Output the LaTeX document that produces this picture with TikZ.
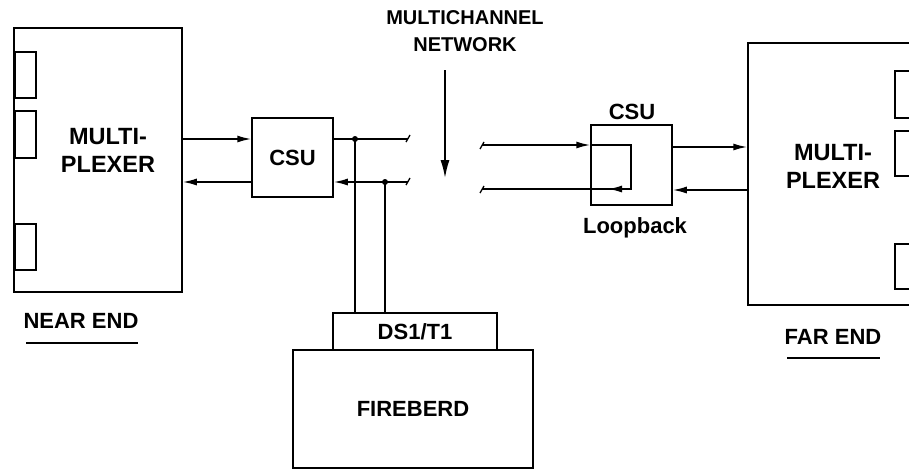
\documentclass[tikz,border=0pt]{standalone}
\usepackage{fontspec}
\setmainfont{Liberation Sans}
\usetikzlibrary{arrows.meta,calc}
\begin{document}
\begin{tikzpicture}[x=1pt,y=-1pt,
  box/.style={draw,line width=1.5pt,inner sep=0pt},
  lbl/.style={font=\fontsize{22}{27}\selectfont\bfseries,align=center,inner sep=0pt},
  muxlbl/.style={lbl,font=\fontsize{23.5}{28}\selectfont\bfseries},
  wire/.style={line width=1.6pt},
  arr/.style={wire,-{Latex[length=14pt,width=7pt]}},
  bigarr/.style={wire,-{Latex[length=18pt,width=9pt]}},
  dot/.style={circle,fill,inner sep=0pt,minimum size=6pt}]
\clip (0,0) rectangle (909,471);
% near-end multiplexer
\node[box,minimum width=168pt,minimum height=264pt] (nmux) at (98,160) {};
\node[box,minimum width=21pt,minimum height=46pt,anchor=north west] (np1) at (14,51) {};
\node[box,minimum width=21pt,minimum height=47pt,anchor=north west] (np2) at (14,110) {};
\node[box,minimum width=21pt,minimum height=46pt,anchor=north west] (np3) at (14,223) {};
\node[muxlbl] (nmuxt) at (108,150) {MULTI-\\PLEXER};
\node[lbl] (nearlbl) at (81,321) {NEAR END};
\coordinate (nu1) at (26,343); \coordinate (nu2) at (138,343);
\draw[wire] (nu1) -- (nu2);
% near CSU
\node[box,minimum width=81pt,minimum height=79pt] (ncsu) at (292.5,157.5) {};
\node[lbl] (ncsut) at (ncsu.center) {CSU};
\coordinate (rowA) at (0,139); \coordinate (rowB) at (0,182);
\draw[arr] (nmux.east |- rowA) -- (ncsu.west |- rowA);
\draw[arr] (ncsu.west |- rowB) -- (nmux.east |- rowB);
% breaks
\coordinate (brkLT) at (408,139); \coordinate (brkLB) at (408,182);
\coordinate (brkRT) at (482,145); \coordinate (brkRB) at (482,189);
\draw[wire] (ncsu.east |- rowA) -- (brkLT);
\draw[arr] (brkLB) -- (ncsu.east |- rowB);
\draw[line width=1.3pt] ($(brkLT)+(-2,3)$) -- ($(brkLT)+(2,-4)$);
\draw[line width=1.3pt] ($(brkLB)+(-2,3)$) -- ($(brkLB)+(2,-4)$);
\draw[line width=1.3pt] ($(brkRT)+(-2,4)$) -- ($(brkRT)+(2,-3)$);
\draw[line width=1.3pt] ($(brkRB)+(-2,4)$) -- ($(brkRB)+(2,-3)$);
% taps to the test set
\node[dot] (d1) at (355,139) {};
\node[dot] (d2) at (385,182) {};
% FIREBERD
\node[box,lbl,minimum width=164pt,minimum height=37pt] (ds1) at (415,331.5) {DS1/T1};
\node[box,lbl,minimum width=240pt,minimum height=118pt] (fb) at (413,409) {FIREBERD};
\draw[wire] (d1.center) -- (d1 |- ds1.north);
\draw[wire] (d2.center) -- (d2 |- ds1.north);
% network label and arrow
\node[lbl,font=\fontsize{20}{27}\selectfont\bfseries] (netlbl) at (465,31) {MULTICHANNEL\\NETWORK};
\coordinate (netTop) at (445,70); \coordinate (netTip) at (445,178);
\draw[bigarr] (netTop) -- (netTip);
% far CSU with loopback
\node[box,minimum width=81pt,minimum height=80pt] (fcsu) at (631.5,165) {};
\node[lbl] (fcsul) at (632,112) {CSU};
\node[lbl] (loop) at (635,228) {Loopback};
\coordinate (loopTR) at (631,145); \coordinate (loopBR) at (631,189);
\coordinate (loopArr) at (608,189);
\draw[arr] (brkRT) -- (fcsu.west |- brkRT);
\draw[wire] (fcsu.west |- brkRT) -- (loopTR) -- (loopBR) -- (brkRB);
\draw[arr] (loopBR) -- (loopArr);
% far-end multiplexer
\node[box,minimum width=182pt,minimum height=262pt] (fmux) at (839,174) {};
\node[box,minimum width=30pt,minimum height=47pt,anchor=north west] (fp1) at (894,70) {};
\node[box,minimum width=30pt,minimum height=45pt,anchor=north west] (fp2) at (894,130) {};
\node[box,minimum width=30pt,minimum height=45pt,anchor=north west] (fp3) at (894,243) {};
\node[muxlbl] (fmuxt) at (833,166) {MULTI-\\PLEXER};
\coordinate (rowE) at (0,147); \coordinate (rowF) at (0,190);
\draw[arr] (fcsu.east |- rowE) -- (fmux.west |- rowE);
\draw[arr] (fmux.west |- rowF) -- (fcsu.east |- rowF);
\node[lbl] (farlbl) at (833,337) {FAR END};
\coordinate (fu1) at (787,358); \coordinate (fu2) at (880,358);
\draw[wire] (fu1) -- (fu2);
\end{tikzpicture}
\end{document}
